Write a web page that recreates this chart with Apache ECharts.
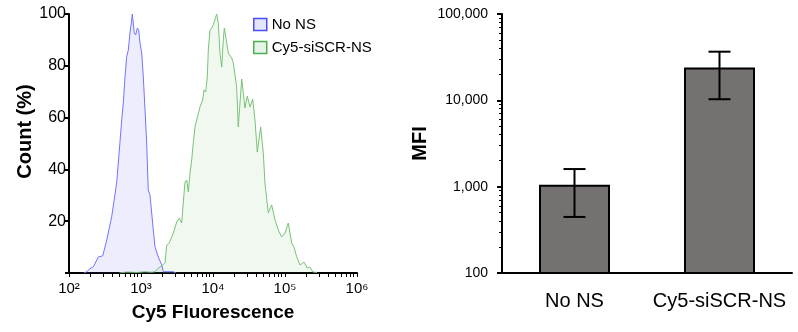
<!DOCTYPE html>
<html>
<head>
<meta charset="utf-8">
<script src="https://cdn.jsdelivr.net/npm/echarts@6/dist/echarts.min.js"></script>
<style>
  html, body { margin: 0; padding: 0; background: #fff; }
  #main { width: 798px; height: 332px; }
</style>
</head>
<body>
<div id="main"></div>
<script>
// histogram, x in log10(Cy5 fluorescence), y in count (%)
const noNsLogFl = [2.208, 2.246, 2.292, 2.338, 2.407, 2.468, 2.524, 2.593, 2.663, 2.708, 2.732, 2.754, 2.778, 2.801, 2.824, 2.847, 2.871, 2.879, 2.907, 2.926, 2.949, 2.968, 2.986, 3.010, 3.032, 3.056, 3.079, 3.101, 3.125, 3.171, 3.194, 3.240, 3.288, 3.310, 3.449, 3.486];
const noNsCount = [0, 0.5, 1.7, 2.4, 6.2, 6.6, 12.7, 21.7, 35.1, 50.6, 59.1, 65.6, 75.8, 83.5, 86.1, 92.7, 97.7, 100, 92.7, 91.9, 94.6, 93.8, 88.8, 84.9, 75.7, 62.9, 50.2, 32.0, 30.1, 16.6, 10.2, 6.2, 3.1, 0.5, 0.5, 0];

const cy5LogFl = [2.70, 2.80, 2.95, 3.05, 3.15, 3.194, 3.240, 3.288, 3.333, 3.357, 3.393, 3.449, 3.496, 3.532, 3.565, 3.588, 3.611, 3.635, 3.657, 3.681, 3.704, 3.726, 3.750, 3.774, 3.819, 3.857, 3.875, 3.899, 3.921, 3.935, 3.958, 3.982, 4.004, 4.028, 4.051, 4.074, 4.097, 4.121, 4.143, 4.157, 4.190, 4.213, 4.236, 4.260, 4.282, 4.329, 4.351, 4.399, 4.444, 4.476, 4.514, 4.551, 4.583, 4.615, 4.662, 4.699, 4.722, 4.768, 4.815, 4.861, 4.907, 4.954, 5.000, 5.046, 5.093, 5.125, 5.163, 5.208, 5.264, 5.310, 5.347, 5.385, 5.444];
const cy5Count = [0, 0.4, 0.2, 0.5, 0.3, 0.5, 1.9, 2.7, 3.9, 10.8, 11.6, 15.4, 19.7, 21.2, 19.3, 27.4, 35.1, 35.9, 31.3, 38.6, 43.6, 50.2, 56.4, 59.1, 64.1, 66.8, 70.7, 69.9, 75.7, 86.1, 93.8, 94.6, 95.8, 95.4, 100, 96.5, 84.9, 79.5, 90, 94.6, 88.8, 84.9, 85.3, 83, 81.1, 71.8, 56.4, 74.9, 63.7, 68.3, 64.1, 67.2, 59.1, 46.7, 56.4, 46.3, 34.7, 23.2, 26.3, 20.5, 16.6, 13.9, 15.4, 19.3, 11.6, 10, 6.2, 3.1, 4.2, 1.9, 2.3, 0.4, 0.2];

const decades = [2, 3, 4, 5, 6];
const countTicks = [0, 20, 40, 60, 80, 100];

// MFI bar chart
const groups = ['No NS', 'Cy5-siSCR-NS'];
const mfi = [1050, 24000];
const mfiLow = [446, 10300];
const mfiHigh = [1600, 36600];

var dom = document.getElementById('main');
var myChart = echarts.init(dom, null, { renderer: 'canvas' });

// tick positions (log10 of k * 10^n)
function logTicks(from, to) {
    const out = [];
    for (let n = from; n < to; n++) {
        for (let k = 1; k <= 9; k++) out.push(n + Math.log10(k));
    }
    out.push(to);
    return out;
}

const sup = { 0: '\u2070', 1: '\u00b9', 2: '\u00b2', 3: '\u00b3', 4: '\u2074', 5: '\u2075', 6: '\u2076', 7: '\u2077', 8: '\u2078', 9: '\u2079' };

const font = 'Liberation Sans, Arial, sans-serif';
const black = '#000';
// y axis strokes get their own colour strings, otherwise they came out invisible
const yLine = 'rgb(0,0,0)';
const yTick = 'rgba(0,0,0,1)';
const yMinor = '#010101';

var option = {
    animation: false,
    textStyle: { fontFamily: font, color: black },
    legend: {
        orient: 'vertical',
        left: 248,
        top: 12,
        itemWidth: 13,
        itemHeight: 12,
        itemGap: 8,
        icon: 'rect',
        textStyle: { fontSize: 15, color: black, fontFamily: font },
        data: [
            { name: 'No NS', itemStyle: { color: '#e4e4fb', borderColor: '#4a4aff', borderWidth: 1.5 } },
            { name: 'Cy5-siSCR-NS', itemStyle: { color: '#e8f3e8', borderColor: '#4caf50', borderWidth: 1.5 } }
        ]
    },
    grid: [
        { left: 69, top: 14, width: 288, height: 259 },
        { left: 502, top: 14, width: 290, height: 259 }
    ],
    xAxis: [
        {
            type: 'value',
            gridIndex: 0,
            min: 2,
            max: 6,
            name: 'Cy5 Fluorescence',
            nameLocation: 'middle',
            nameGap: 30,
            nameTextStyle: { fontSize: 19, fontWeight: 'bold', color: black, fontFamily: font },
            axisLine: { onZero: false, lineStyle: { color: black, width: 2 } },
            axisTick: { show: true, length: 4, customValues: logTicks(2, 6), lineStyle: { color: '#000000', width: 1 } },
            axisLabel: {
                customValues: decades,
                margin: 8,
                fontSize: 15,
                color: black,
                fontFamily: font,
                formatter: v => '10' + String(v).split('').map(d => sup[d]).join('')
            },
            splitLine: { show: false }
        },
        {
            type: 'category',
            gridIndex: 1,
            data: groups,
            axisLine: { onZero: false, lineStyle: { color: black, width: 2 } },
            axisTick: { show: false },
            axisLabel: { interval: 0, hideOverlap: false, fontSize: 20, margin: 18, color: black, fontFamily: font }
        }
    ],
    yAxis: [
        {
            type: 'value',
            gridIndex: 0,
            z: 1,
            min: countTicks[0],
            max: countTicks[countTicks.length - 1],
            interval: 20,
            name: 'Count (%)',
            nameLocation: 'middle',
            nameGap: 34,
            nameTextStyle: { fontSize: 20, fontWeight: 'bold', color: black, fontFamily: font, padding: [0, 0, 0, 24] },
            axisLine: { show: true, onZero: false, lineStyle: { color: yLine, width: 2 } },
            axisTick: { show: true, length: 4, lineStyle: { color: yTick, width: 2 } },
            axisLabel: { fontSize: 16, margin: 3, color: black, fontFamily: font, formatter: v => (v === 0 ? '' : v) },
            splitLine: { show: false }
        },
        {
            type: 'log',
            gridIndex: 1,
            z: 1,
            logBase: 10,
            min: 100,
            max: 100000,
            name: 'MFI',
            nameLocation: 'middle',
            nameGap: 72,
            nameTextStyle: { fontSize: 20, fontWeight: 'bold', color: black, fontFamily: font },
            axisLine: { show: true, onZero: false, lineStyle: { color: yLine, width: 2 } },
            axisTick: { show: true, length: 5, lineStyle: { color: yTick, width: 2 } },
            axisLabel: { fontSize: 14, margin: 14, color: black, fontFamily: font, formatter: v => Number(v).toLocaleString('en-US') },
            splitLine: { show: false }
        },
        {
            // minor ticks for the log axis
            type: 'value',
            gridIndex: 1,
            z: 1,
            min: 2,
            max: 5,
            position: 'left',
            axisLine: { show: false, onZero: false },
            axisTick: { show: true, length: 3, customValues: logTicks(2, 5), lineStyle: { color: yMinor, width: 1 } },
            axisLabel: { show: false },
            splitLine: { show: false }
        }
    ],
    series: [
        {
            name: 'No NS',
            type: 'line',
            xAxisIndex: 0,
            yAxisIndex: 0,
            data: noNsLogFl.map((x, i) => [x, noNsCount[i]]),
            showSymbol: false,
            symbol: 'none',
            lineStyle: { color: '#7474ff', width: 1 },
            itemStyle: { color: '#7474ff' },
            areaStyle: { color: 'rgba(100,100,240,0.16)' },
            z: 2
        },
        {
            name: 'Cy5-siSCR-NS',
            type: 'line',
            xAxisIndex: 0,
            yAxisIndex: 0,
            data: cy5LogFl.map((x, i) => [x, cy5Count[i]]),
            showSymbol: false,
            symbol: 'none',
            lineStyle: { color: '#78c278', width: 1 },
            itemStyle: { color: '#78c278' },
            areaStyle: { color: 'rgba(60,160,60,0.11)' },
            z: 3
        },
        {
            name: 'MFI',
            type: 'bar',
            xAxisIndex: 1,
            yAxisIndex: 1,
            data: mfi,
            barWidth: 71,
            clip: true,
            itemStyle: { color: '#767171', borderColor: black, borderWidth: 2 }
        },
        {
            name: 'err',
            type: 'custom',
            xAxisIndex: 1,
            yAxisIndex: 1,
            data: groups.map((g, i) => [i, mfiLow[i], mfiHigh[i]]),
            renderItem: function (params, api) {
                const lo = api.coord([api.value(0), api.value(1)]);
                const hi = api.coord([api.value(0), api.value(2)]);
                const half = 11;
                const style = { stroke: black, lineWidth: 2 };
                return {
                    type: 'group',
                    children: [
                        { type: 'line', shape: { x1: lo[0], y1: lo[1], x2: hi[0], y2: hi[1] }, style: style },
                        { type: 'line', shape: { x1: hi[0] - half, y1: hi[1], x2: hi[0] + half, y2: hi[1] }, style: style },
                        { type: 'line', shape: { x1: lo[0] - half, y1: lo[1], x2: lo[0] + half, y2: lo[1] }, style: style }
                    ]
                };
            },
            z: 5
        }
    ]
};

if (option && typeof option === 'object') {
    myChart.setOption(option);
}
</script>
</body>
</html>
